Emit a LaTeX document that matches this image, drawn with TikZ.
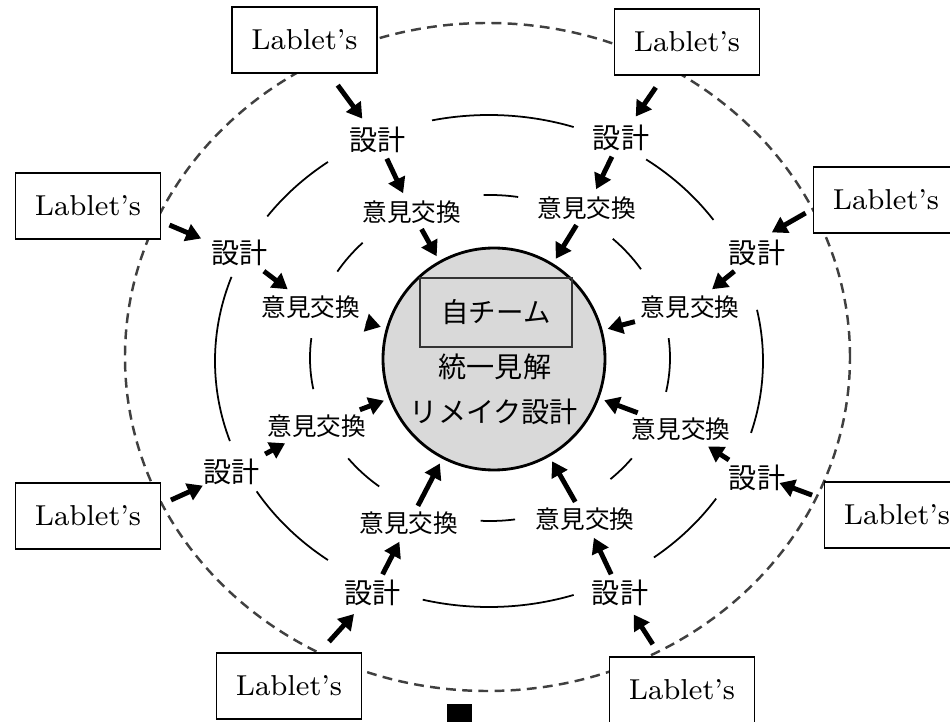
\documentclass[tikz,border=0pt]{standalone}
\usepackage{fontspec}
\newfontfamily\jp{Noto Sans CJK JP}
\usetikzlibrary{arrows.meta}

\begin{document}
\begin{tikzpicture}[
    lab/.style={draw, fill=white, line width=0.5pt, minimum width=1.45cm, minimum height=0.66cm, font=\fontsize{8.2}{10}\selectfont},
    des/.style={font=\jp\fontsize{8}{9}\selectfont, inner sep=1pt},
    opi/.style={font=\jp\fontsize{7}{8}\selectfont, inner sep=1pt},
    flow/.style={line width=1.4pt, -{Triangle[length=4.3pt,width=5pt]}},
    ring/.style={line width=0.5pt}
]
    \clip (-4.94,-3.63) rectangle (4.56,3.59);

    % Outer dashed boundary
    \draw[black!75, line width=0.7pt, dash pattern=on 2.8pt off 1.8pt] (-0.065,0.02) ellipse [x radius=3.625, y radius=3.34];

    % Broken rings
    \foreach \a/\b in {72/102,126/144,160/199,212/234,256/288,307/326,-17/12,35/55}
        \draw[ring] (-0.05,-0.02) ++(\a:2.74 and 2.46) arc[start angle=\a, end angle=\b, x radius=2.74, y radius=2.46];
    \foreach \a/\b in {81/92,135/148,173/191,218/232,267/278,312/322,-12/7,33/47}
        \draw[ring] (-0.04,0.01) ++(\a:1.80 and 1.63) arc[start angle=\a, end angle=\b, x radius=1.80, y radius=1.63];

    % Own team
    \node[circle, draw, line width=0.8pt, fill=gray!30, minimum size=2.22cm, inner sep=0] (core) at (0,0) {};
    \node[draw, black!80, line width=0.5pt, minimum width=1.52cm, minimum height=0.69cm, font=\jp\fontsize{7.8}{9}\selectfont, text=black] (own) at (0.02,0.465) {自チーム};
    \node[font=\jp\fontsize{8}{9}\selectfont] (view) at (0.01,-0.08) {統一見解};
    \node[font=\jp\fontsize{8}{9}\selectfont] (remake) at (0,-0.53) {リメイク設計};

    % Lablet's teams
    \node[lab] (labTL) at (-1.895,3.19) {Lablet's};
    \node[lab] (labTR) at (1.93,3.17) {Lablet's};
    \node[lab] (labL1) at (-4.06,1.53) {Lablet's};
    \node[lab] (labR1) at (3.92,1.59) {Lablet's};
    \node[lab] (labL2) at (-4.06,-1.57) {Lablet's};
    \node[lab] (labR2) at (4.03,-1.56) {Lablet's};
    \node[lab] (labBL) at (-2.05,-3.27) {Lablet's};
    \node[lab] (labBR) at (1.88,-3.31) {Lablet's};

    % Design step
    \node[des] (desTL) at (-1.16,2.19) {設計};
    \node[des] (desTR) at (1.27,2.21) {設計};
    \node[des] (desL1) at (-2.54,1.06) {設計};
    \node[des] (desR1) at (2.63,1.06) {設計};
    \node[des] (desL2) at (-2.62,-1.13) {設計};
    \node[des] (desR2) at (2.63,-1.19) {設計};
    \node[des] (desBL) at (-1.21,-2.34) {設計};
    \node[des] (desBR) at (1.26,-2.34) {設計};

    % Exchange step
    \node[opi] (opiTL) at (-0.82,1.47) {意見交換};
    \node[opi] (opiTR) at (0.93,1.51) {意見交換};
    \node[opi] (opiL1) at (-1.83,0.52) {意見交換};
    \node[opi] (opiR1) at (1.96,0.52) {意見交換};
    \node[opi] (opiL2) at (-1.77,-0.67) {意見交換};
    \node[opi] (opiR2) at (1.87,-0.70) {意見交換};
    \node[opi] (opiBL) at (-0.85,-1.64) {意見交換};
    \node[opi] (opiBR) at (0.91,-1.60) {意見交換};

    % Arrows inward
    \foreach \p in {TL,TR,BL,BR}
        \draw[flow, shorten <=4pt, shorten >=1.5pt] (lab\p) -- (des\p);
    \foreach \p/\s/\t/\g/\h in {L1/-12/160/2.5pt/2pt,L2/9/205/3pt/-1pt,R1/187/63/2.3pt/2pt,R2/168/-15/3.5pt/-3pt}
        \draw[flow, shorten <=\g, shorten >=\h] (lab\p.\s) -- (des\p.\t);
    \foreach \p in {TL,TR,L1,R1,L2,R2,BL,BR} {
        \draw[flow, shorten <=0.5pt, shorten >=1pt] (des\p) -- (opi\p);
        \draw[flow, shorten <=0.5pt, shorten >=1.5pt] (opi\p) -- (core);
    }

    % Marker
    \fill (-0.47,-3.45) rectangle (-0.22,-3.70);
\end{tikzpicture}
\end{document}
